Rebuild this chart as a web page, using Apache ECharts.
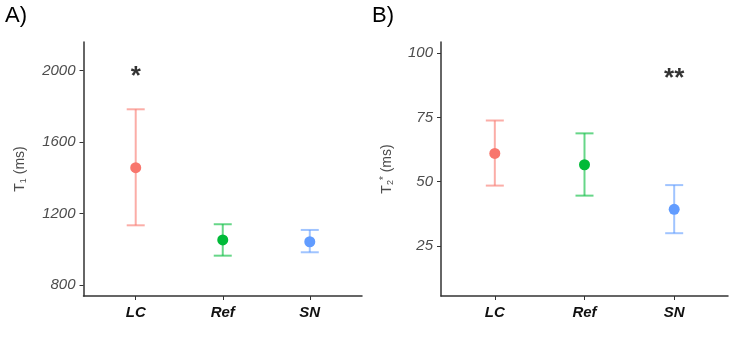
<!DOCTYPE html>
<html>
<head>
<meta charset="utf-8">
<script src="https://cdn.jsdelivr.net/npm/echarts@6/dist/echarts.min.js"></script>
<style>
  html, body { margin: 0; padding: 0; background: #fff; }
  #chart { width: 741px; height: 347px; }
</style>
</head>
<body>
<div id="chart"></div>
<script>
// 数据
var categories = ['LC', 'Ref', 'SN'];
var catPos = [1, 2, 3];

var t1Mean = [1457, 1052, 1042];
var t1Low  = [1134, 964, 983];
var t1High = [1784, 1140, 1108];
var t1Ticks = [800, 1200, 1600, 2000];

var t2Mean = [61, 56.6, 39.3];
var t2Low  = [48.5, 44.6, 30];
var t2High = [73.8, 68.8, 48.7];
var t2Ticks = [25, 50, 75, 100];

// 显著性标记
var t1Sig = [[1, 2000, '*']];
var t2Sig = [[3, 92.5, '**']];

var colors = ['#F8766D', '#00BA38', '#619CFF'];
var FONT = '"Liberation Sans", Arial, sans-serif';

var chart = echarts.init(document.getElementById('chart'));

function xAxisOpt(gridIndex) {
    return {
        type: 'value', gridIndex: gridIndex, min: 0.4, max: 3.6,
        axisLine: { lineStyle: { color: '#333', width: 1.5 } },
        axisTick: { customValues: catPos, length: 4, lineStyle: { color: '#333' } },
        axisLabel: {
            customValues: catPos, margin: 9,
            color: '#111', fontSize: 15, fontWeight: 'bold', fontStyle: 'italic', fontFamily: FONT,
            formatter: function (v) { return categories[Math.round(v) - 1] || ''; }
        },
        splitLine: { show: false }
    };
}

function yAxisOpt(gridIndex, min, max, ticks, name, gap) {
    return {
        type: 'value', gridIndex: gridIndex, min: min, max: max,
        name: name, nameLocation: 'middle', nameGap: gap,
        nameTextStyle: {
            color: '#4d4d4d', fontSize: 14, fontFamily: FONT,
            rich: {
                n: { fontSize: 14, color: '#4d4d4d', fontFamily: FONT },
                sub: { fontSize: 9, color: '#4d4d4d', fontFamily: FONT, padding: [7, 0, 0, 0] },
                sup: { fontSize: 10, color: '#4d4d4d', fontFamily: FONT, padding: [0, 0, 7, 0] }
            }
        },
        axisLine: { show: true, lineStyle: { color: '#333', width: 1.5 } },
        axisTick: { show: true, customValues: ticks, length: 4, lineStyle: { color: '#333' } },
        axisLabel: {
            customValues: ticks, margin: 8,
            color: '#4d4d4d', fontSize: 15, fontStyle: 'italic', fontFamily: FONT,
            formatter: function (v) { return String(v); }
        },
        splitLine: { show: false }
    };
}

function errData(low, high) {
    return catPos.map(function (x, i) { return [x, low[i], high[i]]; });
}
function meanData(mean) {
    return catPos.map(function (x, i) {
        return { value: [x, mean[i]], itemStyle: { color: colors[i], opacity: 1 } };
    });
}

// 误差线：竖线 + 上下横帽
function renderErr(params, api) {
    var x = api.value(0);
    var top = api.coord([x, api.value(2)]);
    var bot = api.coord([x, api.value(1)]);
    var half = 9;
    var style = { stroke: colors[params.dataIndex], lineWidth: 2, opacity: 0.6 };
    return {
        type: 'group',
        children: [
            { type: 'line', shape: { x1: top[0], y1: top[1], x2: bot[0], y2: bot[1] }, style: style },
            { type: 'line', shape: { x1: top[0] - half, y1: top[1], x2: top[0] + half, y2: top[1] }, style: style },
            { type: 'line', shape: { x1: bot[0] - half, y1: bot[1], x2: bot[0] + half, y2: bot[1] }, style: style }
        ]
    };
}

function sigSeries(idx, data) {
    return {
        type: 'scatter', xAxisIndex: idx, yAxisIndex: idx,
        symbolSize: 2, itemStyle: { color: 'rgba(0,0,0,0)' },
        data: data, silent: true, z: 5,
        label: {
            show: true, position: 'inside', offset: [0, 6],
            formatter: function (p) { return p.data[2]; },
            color: '#000', fontSize: 26, fontWeight: 'bold', fontFamily: FONT
        }
    };
}

var option = {
    animation: false,
    backgroundColor: '#fff',
    grid: [
        { left: 83.5, top: 42, width: 278.5, height: 254 },
        { left: 441, top: 42, width: 287, height: 254 }
    ],
    xAxis: [xAxisOpt(0), xAxisOpt(1)],
    yAxis: [
        yAxisOpt(0, 738, 2161, t1Ticks, '{n|T}{sub|1}{n| (ms)}', 55),
        yAxisOpt(1, 5.6, 104.3, t2Ticks, '{n|T}{sub|2}{sup|*}{n| (ms)}', 45)
    ],
    graphic: [
        { type: 'text', left: 5, top: 5, style: { text: 'A)', fontSize: 22, fill: '#000', fontFamily: FONT } },
        { type: 'text', left: 372, top: 5, style: { text: 'B)', fontSize: 22, fill: '#000', fontFamily: FONT } }
    ],
    series: [
        { type: 'custom', xAxisIndex: 0, yAxisIndex: 0, renderItem: renderErr, data: errData(t1Low, t1High), z: 2 },
        { type: 'scatter', xAxisIndex: 0, yAxisIndex: 0, symbolSize: 11, data: meanData(t1Mean), z: 3 },
        sigSeries(0, t1Sig),
        { type: 'custom', xAxisIndex: 1, yAxisIndex: 1, renderItem: renderErr, data: errData(t2Low, t2High), z: 2 },
        { type: 'scatter', xAxisIndex: 1, yAxisIndex: 1, symbolSize: 11, data: meanData(t2Mean), z: 3 },
        sigSeries(1, t2Sig)
    ]
};

chart.setOption(option);
</script>
</body>
</html>
